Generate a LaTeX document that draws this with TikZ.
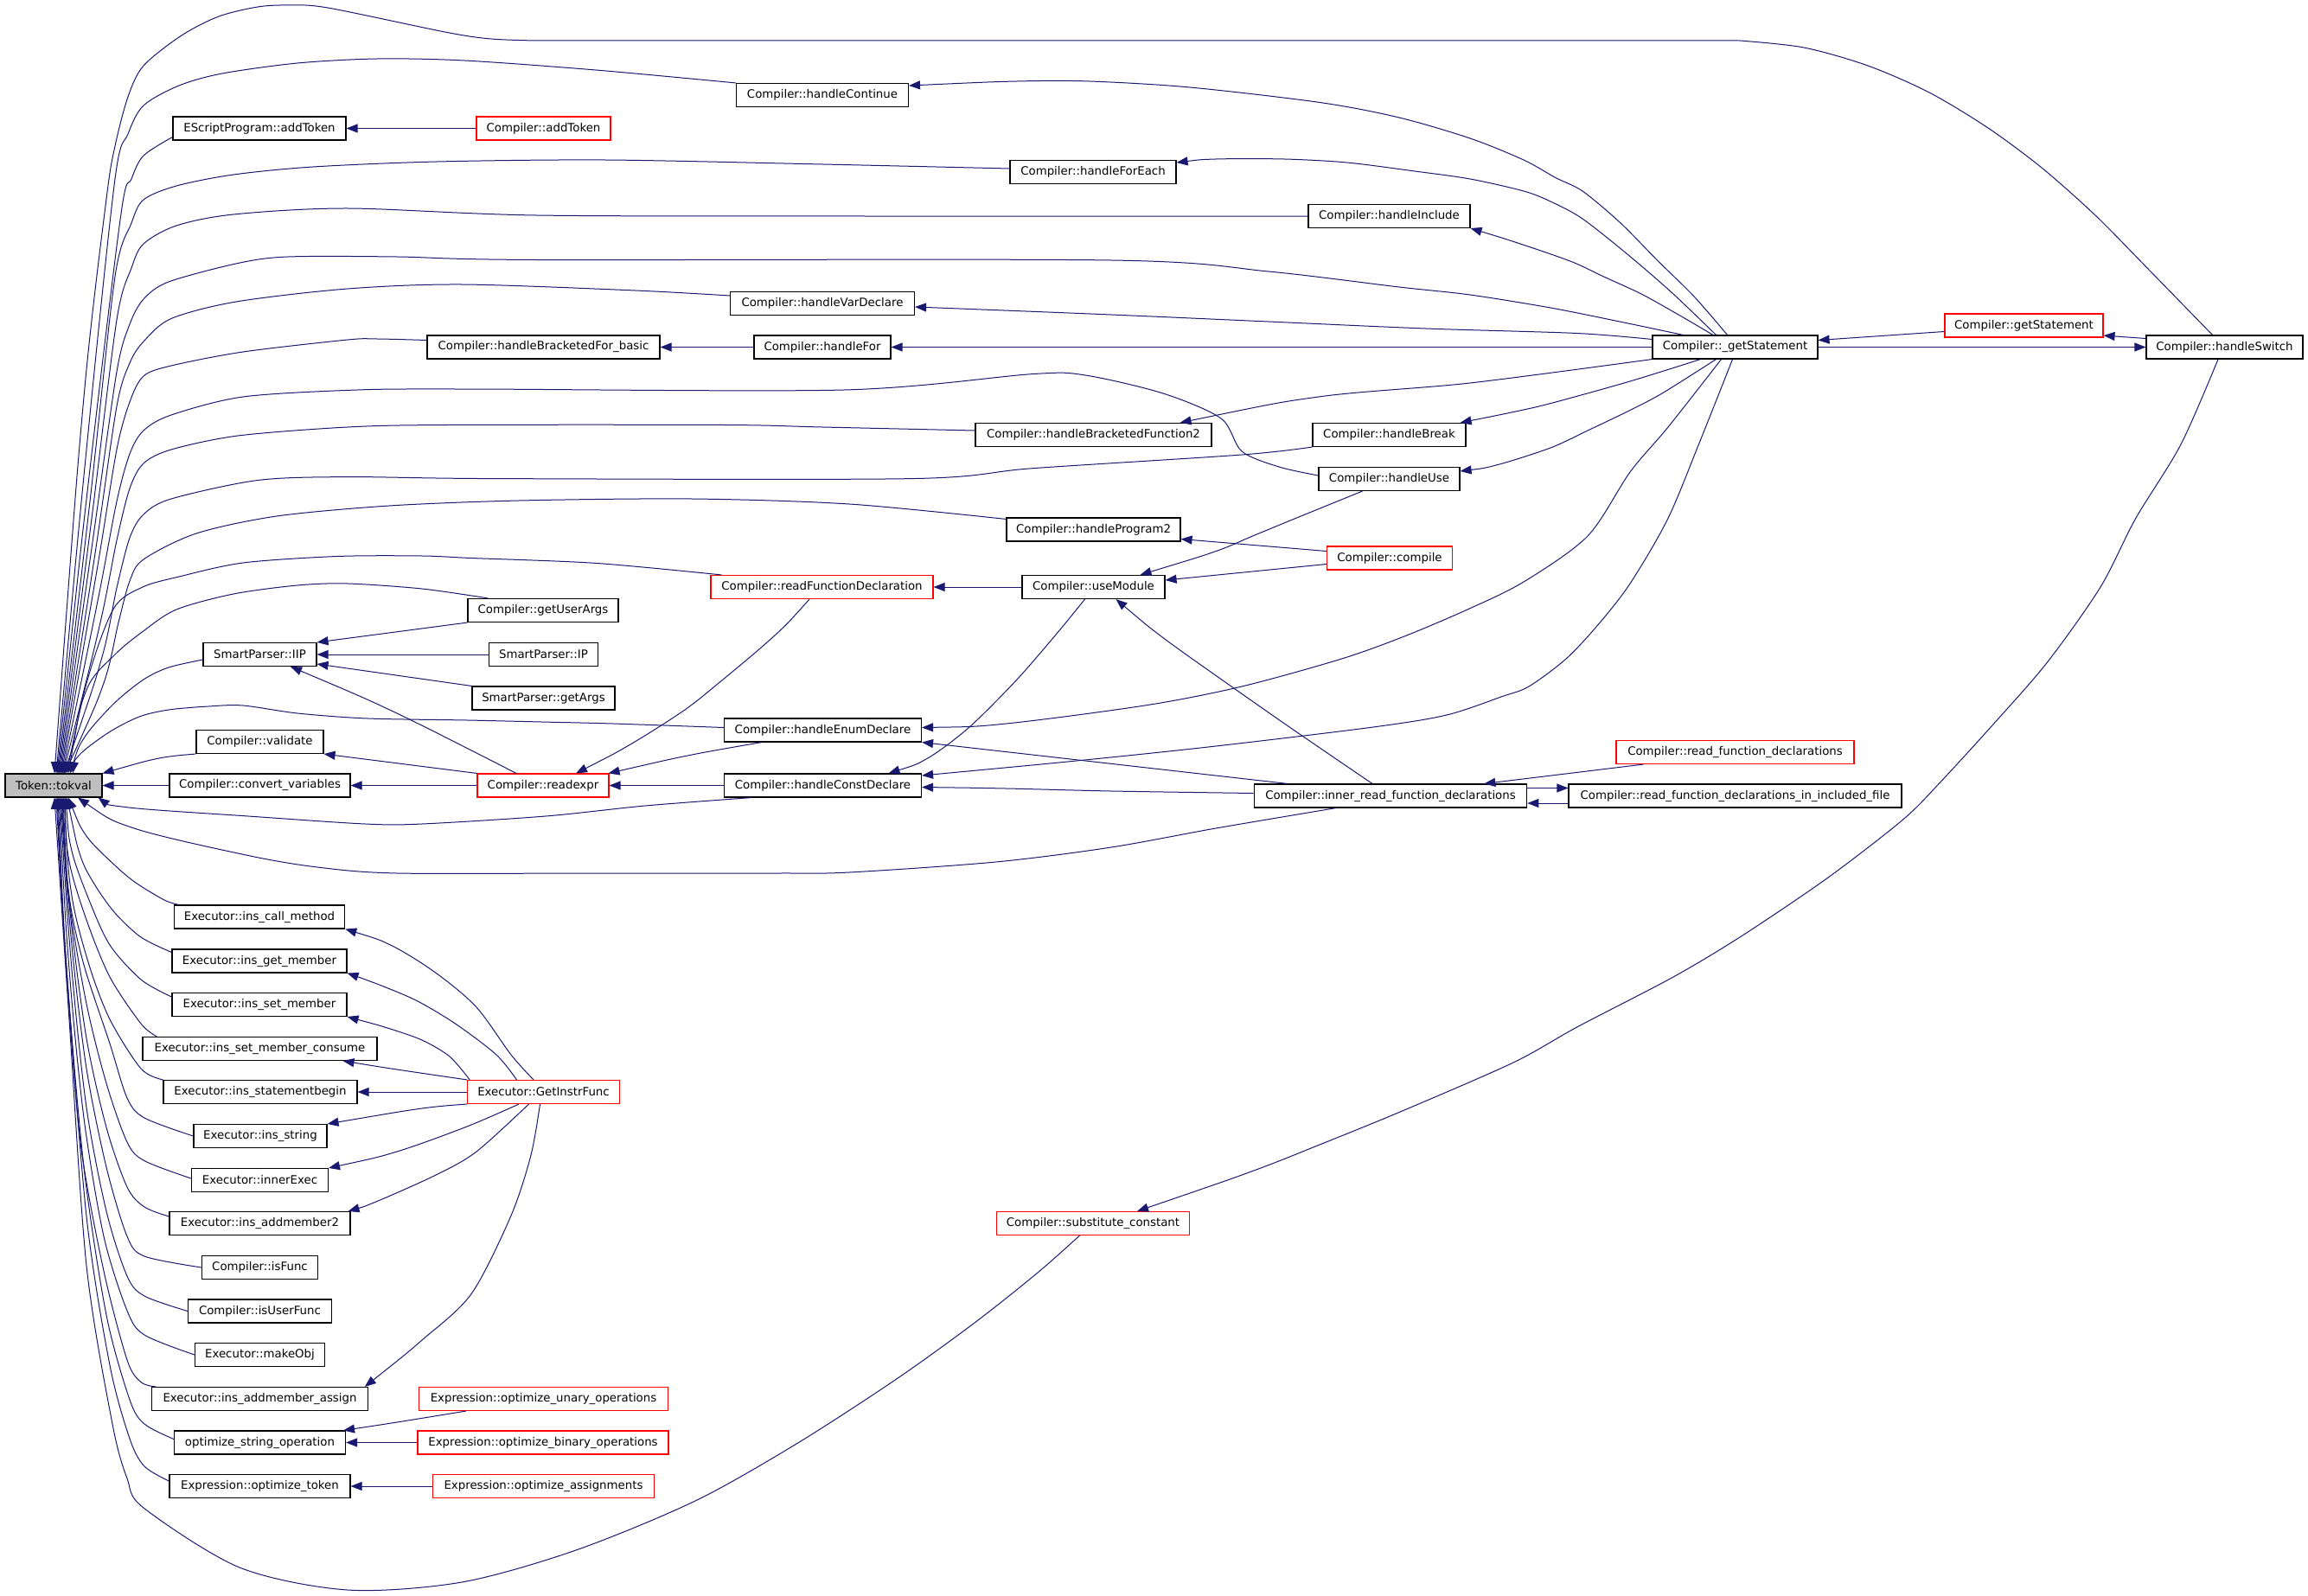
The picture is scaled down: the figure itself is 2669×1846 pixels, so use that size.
\documentclass[tikz,border=0pt]{standalone}
\usepackage{fontspec}
\setmainfont{DejaVu Sans}
\usetikzlibrary{arrows.meta}
\definecolor{edgec}{RGB}{25,25,112}
\definecolor{boxgray}{RGB}{191,191,191}
\begin{document}
\begin{tikzpicture}[x=1pt,y=-1pt,
 >={Triangle[length=13pt,width=10pt]},
 nd/.style={draw=black, line width=1.1pt, minimum height=27pt, inner sep=0pt, font=\fontsize{13.33pt}{16pt}\selectfont, text=black},
 rd/.style={nd, draw=red},
 e/.style={draw=edgec, line width=1pt, <-},
]
\fill[white] (0,0) rectangle (2669,1846);
\useasboundingbox (0,0) rectangle (2669,1846);

% ---------- nodes ----------
\node[nd, minimum width=112pt, fill=boxgray] (tokval) at (62,908.5) {Token::tokval};
\node[nd, minimum width=200pt] (ep) at (300,148.5) {EScriptProgram::addToken};
\node[rd, minimum width=155pt] (cat) at (628.5,148.5) {Compiler::addToken};
\node[nd, minimum width=269pt] (hbfb) at (628.5,401.5) {Compiler::handleBracketedFor\_basic};
\node[nd, minimum width=174pt] (gua) at (628,706) {Compiler::getUserArgs};
\node[nd, minimum width=131pt] (iip) at (300.5,757) {SmartParser::IIP};
\node[nd, minimum width=126.5pt] (ip) at (628.5,757) {SmartParser::IP};
\node[nd, minimum width=165pt] (ga) at (628.5,807.5) {SmartParser::getArgs};
\node[nd, minimum width=147pt] (val) at (300.5,858) {Compiler::validate};
\node[nd, minimum width=209pt] (cv) at (300.5,908.5) {Compiler::convert\_variables};
\node[rd, minimum width=152pt] (re) at (628,908.5) {Compiler::readexpr};
\node[nd, minimum width=197.5pt] (icm) at (300,1060.5) {Executor::ins\_call\_method};
\node[nd, minimum width=202pt] (igm) at (300,1111.5) {Executor::ins\_get\_member};
\node[nd, minimum width=202pt] (ism) at (300,1162) {Executor::ins\_set\_member};
\node[nd, minimum width=271pt] (ismc) at (300.5,1213) {Executor::ins\_set\_member\_consume};
\node[nd, minimum width=224pt] (isb) at (301,1263) {Executor::ins\_statementbegin};
\node[rd, minimum width=175.5pt] (gif) at (628.5,1263) {Executor::GetInstrFunc};
\node[nd, minimum width=154pt] (istr) at (301,1314) {Executor::ins\_string};
\node[nd, minimum width=158pt] (ie) at (300.5,1365) {Executor::innerExec};
\node[nd, minimum width=209pt] (iam2) at (300.5,1415) {Executor::ins\_addmember2};
\node[nd, minimum width=134pt] (isf) at (300.5,1466) {Compiler::isFunc};
\node[nd, minimum width=166pt] (iuf) at (300.5,1516.5) {Compiler::isUserFunc};
\node[nd, minimum width=150pt] (mo) at (300.5,1567) {Executor::makeObj};
\node[nd, minimum width=249.5pt] (iama) at (300.5,1618) {Executor::ins\_addmember\_assign};
\node[rd, minimum width=288pt] (ouo) at (628.5,1618) {Expression::optimize\_unary\_operations};
\node[nd, minimum width=198pt] (oso) at (300.5,1668.5) {optimize\_string\_operation};
\node[rd, minimum width=290pt] (obo) at (628,1668.5) {Expression::optimize\_binary\_operations};
\node[nd, minimum width=209pt] (ot) at (300.5,1719) {Expression::optimize\_token};
\node[rd, minimum width=256pt] (oa) at (628.5,1719) {Expression::optimize\_assignments};
\node[nd, minimum width=199pt] (hc) at (951,110) {Compiler::handleContinue};
\node[nd, minimum width=213pt] (hvd) at (951,351) {Compiler::handleVarDeclare};
\node[nd, minimum width=158pt] (hf) at (951,401.5) {Compiler::handleFor};
\node[rd, minimum width=257pt] (rfd) at (950.5,679) {Compiler::readFunctionDeclaration};
\node[nd, minimum width=228pt] (hed) at (951.5,844.5) {Compiler::handleEnumDeclare};
\node[nd, minimum width=228pt] (hcd) at (951.5,908.5) {Compiler::handleConstDeclare};
\node[nd, minimum width=192pt] (hfe) at (1264,199) {Compiler::handleForEach};
\node[nd, minimum width=273pt] (hbf2) at (1264.5,503) {Compiler::handleBracketedFunction2};
\node[nd, minimum width=201pt] (hp2) at (1264.5,612.5) {Compiler::handleProgram2};
\node[nd, minimum width=165pt] (um) at (1264.5,679) {Compiler::useModule};
\node[rd, minimum width=223.5pt] (sc) at (1264,1415) {Compiler::substitute\_constant};
\node[nd, minimum width=187pt] (hi) at (1606.5,250) {Compiler::handleInclude};
\node[nd, minimum width=177pt] (hbr) at (1606.5,503) {Compiler::handleBreak};
\node[nd, minimum width=163pt] (hu) at (1606.5,554) {Compiler::handleUse};
\node[rd, minimum width=145pt] (cmp) at (1607,645.5) {Compiler::compile};
\node[nd, minimum width=315.5pt] (ird) at (1608,920.5) {Compiler::inner\_read\_function\_declarations};
\node[nd, minimum width=191pt] (gs) at (2006.5,401.5) {Compiler::\_getStatement};
\node[rd, minimum width=275pt] (rfdecl) at (2006.5,870) {Compiler::read\_function\_declarations};
\node[nd, minimum width=385pt] (iif) at (2006.5,920.5) {Compiler::read\_function\_declarations\_in\_included\_file};
\node[rd, minimum width=183pt] (gst) at (2340.5,376.5) {Compiler::getStatement};
\node[nd, minimum width=181pt] (hs) at (2572.5,401.5) {Compiler::handleSwitch};

% ---------- fan into Token::tokval (top) ----------
\draw[e] plot[smooth] coordinates {([xshift=1pt]tokval.north) (97,459) (123,230) (133,169) (148,112) (166,76) (210,41) (253,19) (298,8) (333,6) (379,9) (517,37.5) (568,45) (620,47)} -- (2012,47) -- plot[smooth] coordinates {(2012,47) (2086,55) (2160,76) (2231,107) (2299,148) (2361,194) (2423,249) (2485,312) ([xshift=-14pt]hs.north)};
\draw[e] plot[smooth] coordinates {([xshift=3pt]tokval.north) (100,520) (133,207) (148,155) (166,122) (207,99) (257,85) (344,73) (436,68) (537,70) (689,81) (hc.north west)};
\draw[e] plot[smooth] coordinates {([xshift=4pt]tokval.north) (102,560) (140,247) (152,207) (166,180) ([yshift=4pt]ep.south west)};
\draw[e] plot[smooth] coordinates {([xshift=5pt]tokval.north) (104,580) (133,320) (152,258) (166,231) (204,215) (270,202) (362,193) (505,187) (700,185) (951,190) ([yshift=4pt]hfe.west)};
\draw[e] plot[smooth] coordinates {([xshift=6pt]tokval.north) (106,600) (135,370) (152,310) (166,282) (204,261) (270,248) (402,241) (620,249) (1000,250) (hi.west)};
\draw[e] plot[smooth] coordinates {([xshift=7pt]tokval.north) (108,620) (135,430) (150,375) (166,346) (195,326) (275,304.5) (333,297) (459,297) (620,300.5) (1285,301) (1467,314) (1618,332) (1700,341) (1793,356) (1873,372) ([xshift=-60pt]gs.north)};
\draw[e] plot[smooth] coordinates {([xshift=8pt]tokval.north) (110,640) (135,470) (150,420) (166,395) (198,368.5) (273,349) (402,334) (534,329) (735,336) ([yshift=9pt]hvd.west)};
\draw[e] plot[smooth] coordinates {([xshift=9pt]tokval.north) (112,660) (135,520) (150,465) (166,435) (198,423) (281,407) (402,393) (436,392) ([yshift=8pt]hbfb.west)};
\draw[e] plot[smooth] coordinates {([xshift=10pt]tokval.north) (114,690) (135,580) (150,525) (166,498) (198,480) (281,459) (413,451) (540,450) (976,451) (1194,432.6) (1255,434) (1345,455) (1412,484) (1436,522) (1479,540) ([yshift=4pt]hu.west)};
\draw[e] plot[smooth] coordinates {([xshift=11pt]tokval.north) (116,720) (135,625) (150,565) (166,536) (198,520) (275,504) (402,494) (517,491.5) (838,491.5) (951,494) ([yshift=5pt]hbf2.west)};
\draw[e] plot[smooth] coordinates {([xshift=12pt]tokval.north) (118,760) (135,680) (150,622) (166,595) (198,577) (298,555.5) (402,551.6) (574,553.6) (1054,553.6) (1194,541.7) (1436,526) (hbr.south west)};
\draw[e] plot[smooth] coordinates {([xshift=13pt]tokval.north) (120,790) (137,720) (150,672) (166,647) (227,617) (320,597) (450,585) (600,579) (800,577) (982,583) ([yshift=-2pt]hp2.north west)};
\draw[e] plot[smooth] coordinates {([xshift=15pt]tokval.north) (103,780) (132,703) (165,679) (207,667) (281,651) (390,643.5) (488,643) (545,645.5) (689,651.4) ([xshift=13pt]rfd.north west)};
\draw[e] plot[smooth] coordinates {([xshift=17pt]tokval.north) (100,798) (132,758) (165,730.5) (204,705) (270,687) (344,677) (402,675) (488,681) ([xshift=24pt]gua.north west)};
\draw[e] plot[smooth] coordinates {([xshift=19pt]tokval.north) (97.6,853) (132,813.5) (166,786) (195,772) ([yshift=-6pt]iip.west)};
\draw[e] plot[smooth] coordinates {([xshift=22pt]tokval.north) (92,873) (126,847) (161,829) (195,821) (241,817) (281,816) (344,825) (425,831) (540,833) (626,835) (709,837) ([yshift=3pt]hed.west)};
\draw[e] plot[smooth] coordinates {(tokval.north east) (184,877) (val.south west)};
\draw[e] (tokval.east) -- (cv.west);

% ---------- fan into Token::tokval (bottom) ----------
\draw[e] plot[smooth] coordinates {([xshift=-5pt]tokval.south east) (149,934) (287,944) (422,953) (488,953) (631,944) (746,932) ([xshift=32pt]hcd.south west)};
\draw[e] plot[smooth] coordinates {([xshift=28pt]tokval.south) (155,958) (287,989.5) (367,1003) (459,1010) (689,1010) (900,1010) (982,1009) (1151.5,997) (1285,980) (1406,958) ([xshift=-63pt]ird.south)};
\draw[e] plot[smooth] coordinates {([xshift=17pt]tokval.south) (100,967) (133,1001) (157,1021) (190,1041) ([xshift=6pt]icm.north west)};
\draw[e] plot[smooth] coordinates {([xshift=15.5pt]tokval.south) (93,990) (110,1024) (133,1056) (163,1084) ([yshift=10pt]igm.west)};
\draw[e] plot[smooth] coordinates {([xshift=14pt]tokval.south) (83,984) (103,1041) (127,1093) (163,1133) ([yshift=9pt]ism.west)};
\draw[e] plot[smooth] coordinates {([xshift=13pt]tokval.south) (80,996) (100,1064) (127,1130) (163,1184) ([xshift=17pt]ismc.north west)};
\draw[e] plot[smooth] coordinates {([xshift=12pt]tokval.south) (83,1036) (103,1116) (127,1179) (163,1236) (isb.north west)};
\draw[e] plot[smooth] coordinates {([xshift=11pt]tokval.south) (80,1036) (97,1116) (127,1207) (147,1270) (167,1293) (istr.west)};
\draw[e] plot[smooth] coordinates {([xshift=10pt]tokval.south) (80,1041) (100,1161) (123,1253) (147,1321) (167,1342.6) ([yshift=2pt]ie.west)};
\draw[e] plot[smooth] coordinates {([xshift=9pt]tokval.south) (82,1064) (100,1201) (123,1304) (147,1373) (167,1396) ([yshift=8pt]iam2.west)};
\draw[e] plot[smooth] coordinates {([xshift=8pt]tokval.south) (83,1093) (100,1236) (123,1350) (147,1430) (167,1453) (isf.west)};
\draw[e] plot[smooth] coordinates {([xshift=7pt]tokval.south) (83,1121) (100,1281) (123,1401) (147,1476) (167,1499) (iuf.west)};
\draw[e] plot[smooth] coordinates {([xshift=6pt]tokval.south) (80,1121) (97,1293) (120,1430) (147,1516) (167,1544) (mo.west)};
\draw[e] plot[smooth] coordinates {([xshift=5pt]tokval.south) (77,1121) (93,1321) (120,1470) (147,1573) (163,1598.6) ([xshift=5pt]iama.north west)};
\draw[e] plot[smooth] coordinates {([xshift=4pt]tokval.south) (77,1121) (97,1350) (123,1521) (150,1619) (167,1647) ([yshift=4pt]oso.west)};
\draw[e] plot[smooth] coordinates {([xshift=3pt]tokval.south) (77,1121) (100,1407) (127,1579) (150,1664) (167,1696) ([yshift=6pt]ot.west)};
\draw[e] plot[smooth] coordinates {([xshift=1pt]tokval.south) (80,1179) (100,1464) (130,1647) (147,1710) (166,1744) (277,1813) (402,1839) (534,1830) (666,1793) (804,1736) (921,1670) (1036,1595.5) (1127,1530) (1200,1472) ([xshift=-15.5pt]sc.south)};

% ---------- other edges ----------
\draw[e] (ep.east) -- (cat.west);
\draw[e] plot[smooth] coordinates {([yshift=11pt]hc.east) (1176,94) (1260,94) (1376,101) (1527,118.6) (1618,136) (1700,160) (1762,185) (1799,205.6) (1830,221) (1873,257) (1916,300.5) (1960,344) ([xshift=-9pt]gs.north)};
\draw[e] plot[smooth] coordinates {([yshift=11pt]hfe.east) (1406,184) (1485,184) (1557.6,188) (1636,198) (1700,207) (1762,221) (1793,233) (1830,253) (1885,296.6) (1935,340) ([xshift=-22pt]gs.north)};
\draw[e] plot[smooth] coordinates {(hi.south east) (1755,281) (1817,302.5) (1854.5,320) (1898,340) (1941,364) ([xshift=-25.5pt]gs.north)};
\draw[e] plot[smooth] coordinates {([yshift=-4pt]hvd.east) (1285,364) (1467,372) (1648.5,380) (1823.6,385.5) ([yshift=9pt]gs.west)};
\draw[e] (hf.east) -- (gs.west);
\draw[e] (hbfb.east) -- (hf.west);
\draw[e] plot[smooth] coordinates {([xshift=-37pt]hbf2.north east) (1527,458.7) (1700,443) (gs.south west)};
\draw[e] plot[smooth] coordinates {([xshift=-7pt]hbr.north east) (1750,476.5) (1793,466.6) (1885,441) ([xshift=-40pt]gs.south)};
\draw[e] plot[smooth] coordinates {([yshift=9pt]hu.east) (1731,537.8) (1793,518) (1836,498) (1885,474.5) (1922.5,454.7) ([xshift=-22pt]gs.south)};
\draw[e] plot[smooth] coordinates {([yshift=3pt]hed.east) (1163.6,837) (1327,815.5) (1436,794) (1551.5,762) (1624,736) (1697,705) (1762,673) (1836,620) (1885,546) (1929,494) ([xshift=-16pt]gs.south)};
\draw[e] plot[smooth] coordinates {([yshift=11.5pt]hcd.east) (1254.5,879) (1406,863) (1588,841) (1673,827) (1737,805.6) (1768,794) (1811,762) (1848,722.6) (1885,675) (1928.7,600) (1966,510) ([xshift=-3pt]gs.south)};
\draw[e] ([yshift=8pt]gs.east) -- ([yshift=-7pt]gst.west);
\draw[e] ([yshift=2.5pt]gst.south east) -- ([yshift=10pt]hs.west);
\draw[e] (hs.west) -- (gs.east);
\draw[e] plot[smooth] coordinates {([xshift=51pt]sc.north) (1448.5,1354.5) (1527,1323.6) (1618,1286.5) (1750,1229) (1823.6,1188) (1935,1130) (2015,1082) (2114,1015) (2200.6,948) (2244,904.5) (2305.7,837) (2367.5,766) (2429,679) (2469.5,600) (2522,514) ([xshift=-7.5pt]hs.south)};
\draw[e] ([yshift=-11pt]hp2.east) -- ([yshift=8pt]cmp.west);
\draw[e] ([yshift=8pt]um.east) -- ([yshift=-7pt]cmp.west);
\draw[e] plot[smooth] coordinates {([xshift=54pt]um.north) (1406,637.6) (1448.5,620) (1497,600) ([xshift=-31pt]hu.south)};
\draw[e] (rfd.east) -- (um.west);
\draw[e] plot[smooth] coordinates {([xshift=38pt]re.north) (729,861) (792,821) (836,786) (879,750) (909,722.6) ([xshift=-14.5pt]rfd.south)};
\draw[e] plot[smooth] coordinates {([xshift=76pt]hcd.north) (1072.7,877) (1121,841) (1176,786) (1224,730.5) ([xshift=-10pt]um.south)};
\draw[e] plot[smooth] coordinates {([xshift=26pt]um.south) (1345.5,738) (1424,794) (1497,845) ([xshift=-21pt]ird.north)};
\draw[e] (hed.south east) -- ([xshift=-119pt]ird.north);
\draw[e] plot[smooth] coordinates {([yshift=-2pt]hcd.east) (1163.6,912) (1285,915) ([yshift=3pt]ird.west)};
\draw[e] ([xshift=-50pt]ird.north east) -- ([xshift=32pt]rfdecl.south west);
\draw[e] ([yshift=9pt]iif.west) -- ([yshift=9pt]ird.east);
\draw[e] ([yshift=-8.5pt]ird.east) -- ([yshift=-8.5pt]iif.west);
\draw[e] (iip.north east) -- (gua.south west);
\draw[e] (iip.east) -- (ip.west);
\draw[e] ([yshift=-11pt]iip.east) -- (ga.north west);
\draw[e] plot[smooth] coordinates {([xshift=35.5pt]iip.south) (459,825) ([xshift=-31pt]re.north)};
\draw[e] (val.south east) -- (re.north west);
\draw[e] (cv.east) -- (re.west);
\draw[e] plot[smooth] coordinates {([xshift=-1pt]re.north east) (800,873) ([xshift=44pt]hed.south west)};
\draw[e] (re.east) -- (hcd.west);

% ---------- GetInstrFunc ----------
\draw[e] plot[smooth] coordinates {(icm.south east) (453.5,1094) (505,1126) (551,1165) (591,1220) ([xshift=-11.5pt]gif.north)};
\draw[e] plot[smooth] coordinates {(igm.south east) (436,1138) (482,1157.5) (528,1185) (574,1220) ([xshift=-31pt]gif.north)};
\draw[e] plot[smooth] coordinates {(ism.south east) (448,1189) (488,1203) (520,1222) ([xshift=3pt]gif.north west)};
\draw[e] plot[smooth] coordinates {([xshift=-40pt]ismc.south east) (459,1237) (gif.north west)};
\draw[e] (isb.east) -- (gif.west);
\draw[e] plot[smooth] coordinates {(istr.north east) (488,1282) (gif.south west)};
\draw[e] plot[smooth] coordinates {(ie.north east) (459,1332) (540,1303) ([xshift=-28.5pt]gif.south)};
\draw[e] plot[smooth] coordinates {([xshift=-3pt]iam2.north east) (436,1389.5) (505,1358.6) (551,1332) ([xshift=-17pt]gif.south)};
\draw[e] plot[smooth] coordinates {([xshift=-4pt]iama.north east) (488,1550) (545,1496.6) (591,1406) (614,1336) ([xshift=-4pt]gif.south)};

% ---------- optimize ----------
\draw[e] plot[smooth] coordinates {([xshift=-3pt]oso.north east) (459,1645) ([xshift=55pt]ouo.south west)};
\draw[e] (oso.east) -- (obo.west);
\draw[e] (ot.east) -- (oa.west);
\end{tikzpicture}
\end{document}
